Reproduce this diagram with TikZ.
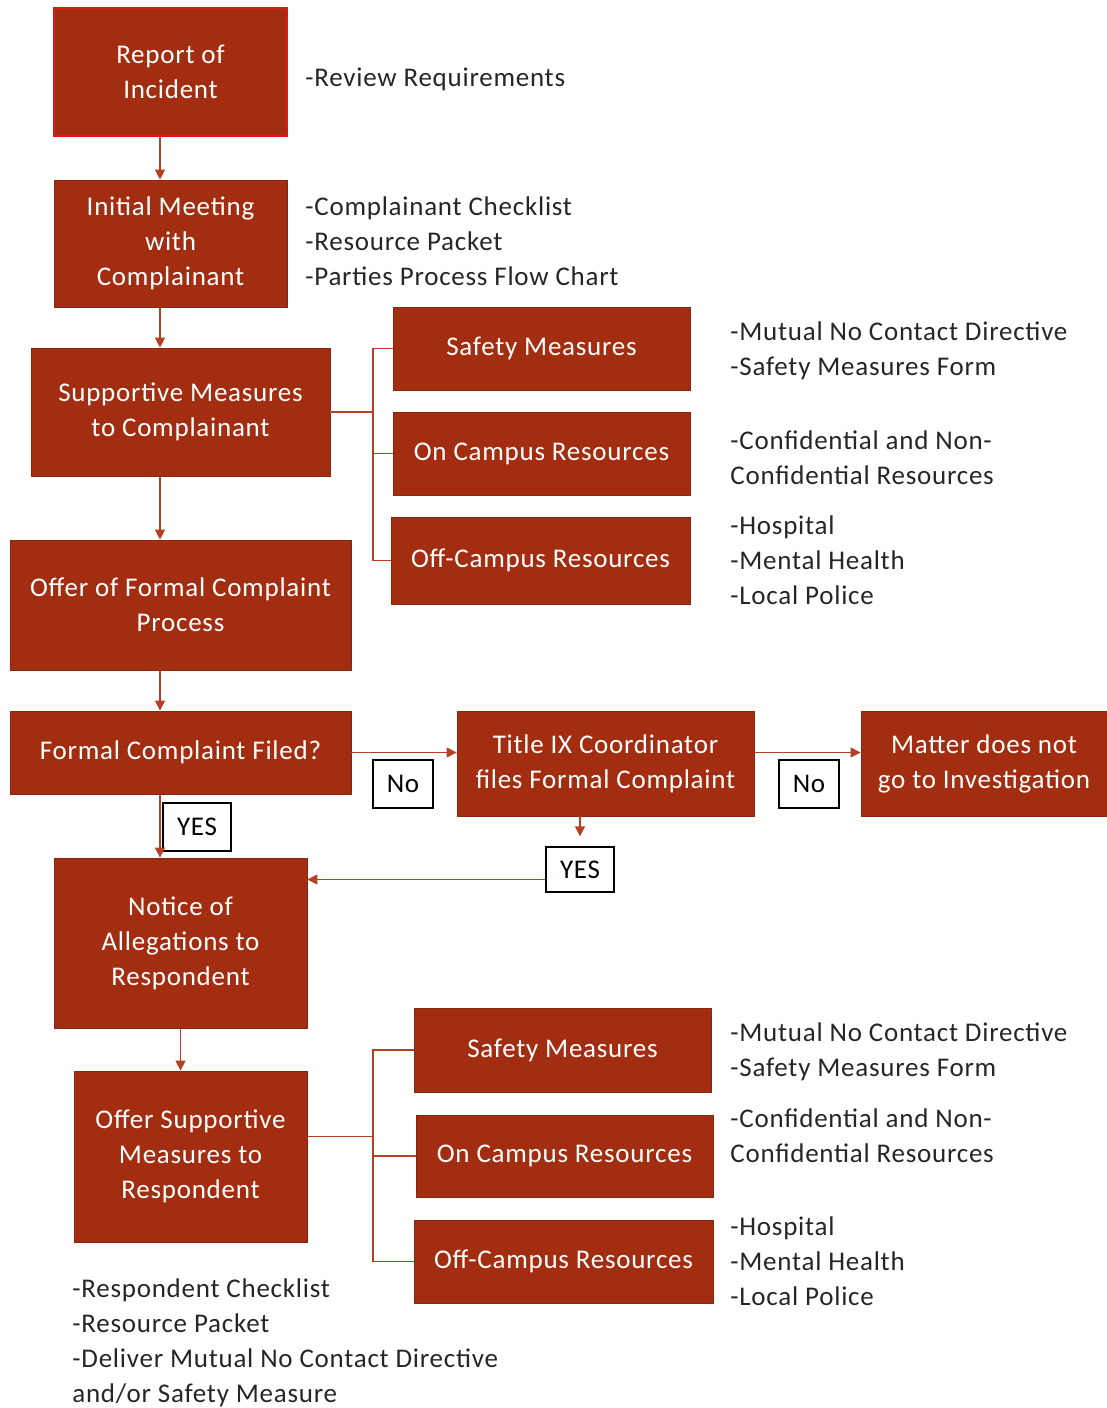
\documentclass[tikz,border=0pt]{standalone}
\usepackage{fontspec}
\setmainfont{Carlito}[LetterSpace=2.8]
\usetikzlibrary{arrows.meta}
\definecolor{boxRed}{RGB}{163,45,16}
\definecolor{lineRed}{RGB}{180,64,38}
\definecolor{reportEdge}{RGB}{230,22,22}
\newcommand{\boxfont}{\fontsize{13.5}{17.5}\selectfont}
\tikzset{%
  >={Triangle[width=5pt,length=5pt]},
  % Specifications for style of nodes:
     base/.style = {rectangle, draw=boxRed!85!black, fill=boxRed,
                           text=white, align=center, inner sep=2pt,
                           font=\boxfont},
    stepBlock/.style = {base},
    resourceBlock/.style = {base, minimum width=148.5pt, minimum height=41.5pt},
    answerBox/.style = {rectangle, draw=black, line width=0.6pt, fill=white,
                           minimum height=24pt, inner sep=1pt, font=\boxfont},
    noteText/.style = {anchor=west, align=left, text=black!85, inner sep=0pt,
                           font=\boxfont},
    link/.style = {draw=lineRed, line width=0.7pt},
}

\begin{document}
\begin{tikzpicture}[node distance=85pt]
  \useasboundingbox (0,0) rectangle (553.5pt,-704pt);
  % Specification of nodes (position, etc.)
  \node (report)      [stepBlock, minimum width=116.5pt, minimum height=64pt,
                       draw=reportEdge, line width=1pt] at (85.25pt,-36pt)
                      {Report of\\Incident};
  \node (meeting)     [stepBlock, minimum width=116.5pt, minimum height=63.5pt,
                       below of=report, yshift=-0.75pt]
                      {Initial Meeting\\with\\Complainant};
  \node (supportive)  [stepBlock, minimum width=149.5pt, minimum height=64pt,
                       below of=meeting, xshift=5pt, yshift=0.75pt]
                      {Supportive Measures\\to Complainant};
  \node (offer)       [stepBlock, minimum width=170.5pt, minimum height=65pt,
                       below of=supportive, yshift=-11.5pt]
                      {Offer of Formal Complaint\\Process};
  \node (filed)       [stepBlock, minimum width=170.5pt, minimum height=41.5pt,
                       below of=offer, yshift=11.25pt]
                      {Formal Complaint Filed?};
  \node (notice)      [stepBlock, minimum width=126.5pt, minimum height=85pt,
                       below of=filed, yshift=-10.25pt]
                      {Notice of\\Allegations to\\Respondent};
  \node (offerResp)   [stepBlock, minimum width=116.5pt, minimum height=85.5pt,
                       below of=notice, xshift=5pt, yshift=-21.75pt]
                      {Offer Supportive\\Measures to\\Respondent};

  \node (titleIX)     [stepBlock, minimum width=148.5pt, minimum height=52.5pt,
                       right of=filed, xshift=127.5pt, yshift=-5.5pt]
                      {Title IX Coordinator\\files Formal Complaint};
  \node (matter)      [stepBlock, minimum width=123pt, minimum height=52.5pt,
                       right of=titleIX, xshift=104.25pt]
                      {Matter does not\\go to Investigation};

  \node (safetyA)     [resourceBlock, right of=supportive, xshift=95.5pt, yshift=31.75pt]
                      {Safety Measures};
  \node (onCampusA)   [resourceBlock, below of=safetyA, yshift=32.5pt]
                      {On Campus Resources};
  \node (offCampusA)  [resourceBlock, minimum width=149.5pt, minimum height=43.5pt,
                       below of=onCampusA, xshift=-0.5pt, yshift=31.5pt]
                      {Off-Campus Resources};
  \node (safetyB)     [resourceBlock, minimum height=42pt,
                       right of=offerResp, xshift=101pt, yshift=53.25pt]
                      {Safety Measures};
  \node (onCampusB)   [resourceBlock, minimum height=41pt,
                       below of=safetyB, xshift=1pt, yshift=32pt]
                      {On Campus Resources};
  \node (offCampusB)  [resourceBlock, minimum width=149.5pt,
                       below of=onCampusB, xshift=-0.5pt, yshift=32.25pt]
                      {Off-Campus Resources};

  % answers on the connectors
  \node (noLeft)      [answerBox, minimum width=30pt] at (201.5pt,-392pt) {No};
  \node (noRight)     [answerBox, minimum width=30pt] at (404.5pt,-392pt) {No};
  \node (yesLeft)     [answerBox, minimum width=34pt] at (98.5pt,-413.5pt) {YES};
  \node (yesRight)    [answerBox, minimum width=34pt, minimum height=22.5pt]
                      at (290pt,-434.75pt) {YES};

  % notes beside the boxes
  \node (reviewNote)     [noteText] at (152.5pt,-39.5pt) {-Review Requirements};
  \node (complainantNote)[noteText] at (152.5pt,-120.5pt)
                         {-Complainant Checklist\\-Resource Packet\\-Parties Process Flow Chart};
  \node (safetyNoteA)    [noteText] at (365pt,-175.5pt)
                         {-Mutual No Contact Directive\\-Safety Measures Form};
  \node (campusNoteA)    [noteText] at (365pt,-229pt)
                         {-Confidential and Non-\\Confidential Resources};
  \node (offNoteA)       [noteText] at (365pt,-280pt)
                         {-Hospital\\-Mental Health\\-Local Police};
  \node (safetyNoteB)    [noteText] at (365pt,-526pt)
                         {-Mutual No Contact Directive\\-Safety Measures Form};
  \node (campusNoteB)    [noteText] at (365pt,-568pt)
                         {-Confidential and Non-\\Confidential Resources};
  \node (offNoteB)       [noteText] at (365pt,-630.75pt)
                         {-Hospital\\-Mental Health\\-Local Police};
  \node (respondentNote) [noteText] at (36pt,-671.5pt)
                         {-Respondent Checklist\\-Resource Packet\\-Deliver Mutual No Contact Directive\\and/or Safety Measure};

  % Specification of lines between nodes specified above
  \coordinate (spine) at (80pt,0);
  \coordinate (forkA) at (186.5pt,0);
  \draw[link, ->]  (report.south -| spine) to (meeting.north -| spine);
  \draw[link, ->]  (meeting.south -| spine) to (supportive.north -| spine);
  \draw[link, ->]  (supportive.south -| spine) to (offer.north -| spine);
  \draw[link, ->]  (offer.south -| spine) to (filed.north -| spine);
  \draw[link, ->]  (filed.south -| spine) to (notice.north -| spine);
  \draw[link, ->]  (filed.east) to (filed.east -| titleIX.west);
  \draw[link, ->]  (filed.east -| titleIX.east) to (filed.east -| matter.west);
  \draw[link, ->, shorten >=5pt] (titleIX.south -| yesRight.north) to (yesRight.north);
  \draw[link, ->]  ([yshift=-5pt]yesRight.west) to ([yshift=-5pt]yesRight.west -| notice.east);
  \draw[link, ->]  (notice.south) to (notice.south |- offerResp.north);

  % brackets to the resources
  \draw[link]      (supportive.east) -- (supportive.east -| forkA);
  \draw[link]      (safetyA.west) -| (forkA |- offCampusA.west) -- (offCampusA.west);
  \draw[link]      (forkA |- onCampusA.west) -- (onCampusA.west);
  \draw[link]      ([yshift=10pt]offerResp.east) -- ([yshift=10pt]offerResp.east -| forkA);
  \draw[link]      (safetyB.west) -| (forkA |- offCampusB.west) -- (offCampusB.west);
  \draw[link]      (forkA |- onCampusB.west) -- (onCampusB.west);

\end{tikzpicture}
\end{document}
